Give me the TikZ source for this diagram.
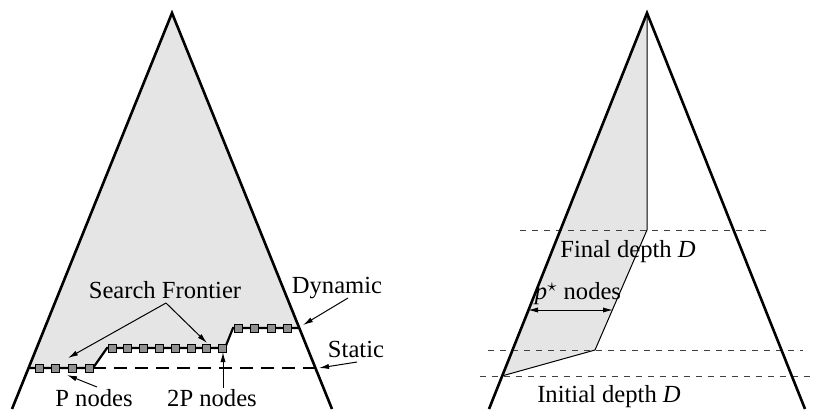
\documentclass[tikz,border=0pt]{standalone}
\usepackage{fontspec}
\setmainfont{Liberation Serif}
\usetikzlibrary{arrows.meta}

\begin{document}
\begin{tikzpicture}[x = 0.5pt, y = -0.5pt, font = \fontsize{12.3}{14}\selectfont,
    treeEdge/.style = {line width = 1.3pt},
    frontierNode/.style = {draw, fill = black!43, minimum size = 4pt, inner sep = 0pt, line width = 0.45pt},
    pointer/.style = {-{Latex[length = 5pt, width = 2.6pt]}, line width = 0.5pt},
    depthLine/.style = {dashed, line width = 0.45pt, black!75}]
    \useasboundingbox (0,0) rectangle (815,409);

    \begin{scope}
    \coordinate (lTop) at (172,13);
    \coordinate (lLeft) at (12,409);
    \coordinate (lRight) at (332,409);
    \coordinate (fA) at (28.6,368);
    \coordinate (fB) at (93,368);
    \coordinate (fC) at (107,348);
    \coordinate (fD) at (225,348);
    \coordinate (fE) at (233,328);
    \coordinate (fF) at (299.3,328);
    \coordinate (staticEnd) at (315.4,368);

    \fill[gray!20] (lTop) -- (fA) -- (fB) -- (fC) -- (fD) -- (fE) -- (fF) -- cycle;
    \draw[line width = 1.3pt, dash pattern = on 6.5pt off 4pt] (fB) -- (staticEnd);
    \draw[line width = 1.1pt] (fA) -- (fB) -- (fC) -- (fD) -- (fE) -- (fF);
    \foreach \x [count = \i] in {39,55.7,72.3,89}
      \node[frontierNode](p\i) at (\x,368) {};
    \foreach \x [count = \i] in {112,127.8,143.6,159.4,175.2,191,206.8,222.6}
      \node[frontierNode](q\i) at (\x,348) {};
    \foreach \x [count = \i] in {238,254.5,271,287.5}
      \node[frontierNode](r\i) at (\x,328) {};
    \draw[treeEdge] (lLeft) -- (lTop) -- (lRight);

    \node(searchFrontier) at (165,290) {Search Frontier};
    \coordinate (frontierFoot) at (166,303);
    \coordinate (frontierTipP) at (68,358);
    \coordinate (frontierTipQ) at (207,343);
    \draw[pointer] (frontierFoot) -- (frontierTipP);
    \draw[pointer] (frontierFoot) -- (frontierTipQ);

    \node(dynamic) at (337,288) {Dynamic};
    \coordinate (dynamicFoot) at (348,298);
    \coordinate (dynamicTip) at (303,325);
    \draw[pointer] (dynamicFoot) -- (dynamicTip);

    \node(static) at (356,349) {Static};
    \coordinate (staticFoot) at (357,362);
    \coordinate (staticTip) at (319,368);
    \draw[pointer] (staticFoot) -- (staticTip);

    \node(pNodes) at (94,398) {P nodes};
    \coordinate (pNodesFoot) at (97,387);
    \coordinate (pNodesTip) at (67,375);
    \draw[pointer] (pNodesFoot) -- (pNodesTip);

    \node(twoPNodes) at (212,398) {2P nodes};
    \coordinate (twoPNodesFoot) at (223,388);
    \coordinate (twoPNodesTip) at (223,352);
    \draw[pointer] (twoPNodesFoot) -- (twoPNodesTip);
  \end{scope}

    \begin{scope}
    \coordinate (rTop) at (647,13);
    \coordinate (rLeft) at (489,409);
    \coordinate (rRight) at (805,409);
    \coordinate (finalCorner) at (647,230);
    \coordinate (midCorner) at (595,350);
    \coordinate (initCorner) at (501.8,376);

    \fill[gray!20] (rTop) -- (finalCorner) -- (midCorner) -- (initCorner) -- cycle;
    \draw[line width = 0.5pt] (rTop) -- (finalCorner) -- (midCorner) -- (initCorner);

    \coordinate (finalL) at (520,230);
    \coordinate (finalR) at (768,230);
    \coordinate (midL) at (488,350);
    \coordinate (midR) at (803,350);
    \coordinate (initL) at (480,376);
    \coordinate (initR) at (815,376);
    \draw[depthLine] (finalL) -- (finalR);
    \draw[depthLine] (midL) -- (midR);
    \draw[depthLine] (initL) -- (initR);
    \draw[treeEdge] (rLeft) -- (rTop) -- (rRight);

    \node(finalDepth) at (628,252) {Final depth \textit{D}};
    \node(pStar) at (578,294) {\textit{p}$^\star$ nodes};
    \coordinate (widthL) at (528,310);
    \coordinate (widthR) at (613,310);
    \draw[{Latex[length = 5pt, width = 2.6pt]}-{Latex[length = 5pt, width = 2.6pt]}, line width = 0.5pt] (widthL) -- (widthR);
    \node(initialDepth) at (609,397) {Initial depth \textit{D}};
  \end{scope}
    \end{tikzpicture}
\end{document}
